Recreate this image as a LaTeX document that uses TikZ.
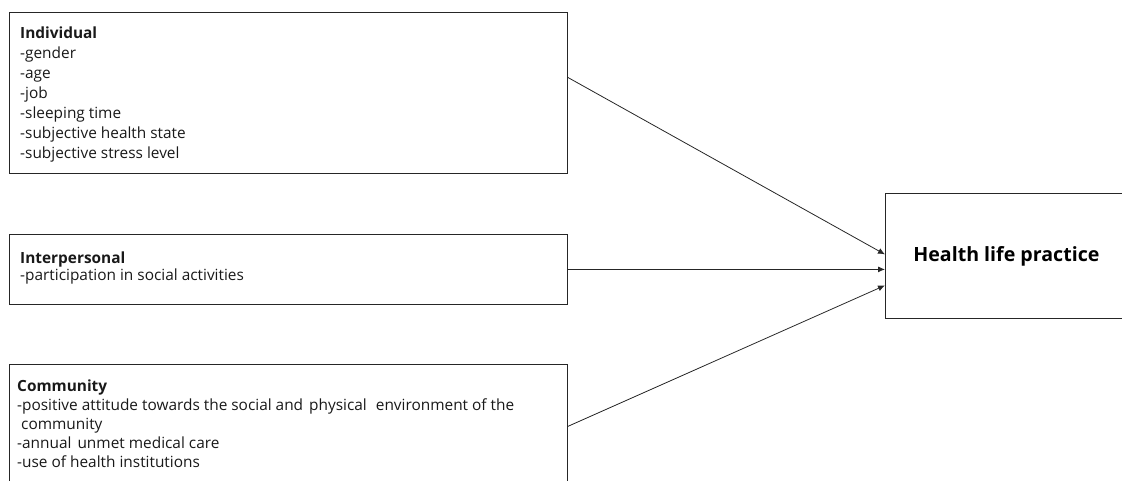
\documentclass[tikz,border=0pt]{standalone}
\usepackage{fontspec}
\setmainfont{Open Sans}
\usetikzlibrary{calc}
\usetikzlibrary{positioning}
\usetikzlibrary{arrows.meta}

\begin{document}
\begin{tikzpicture}[x=1pt,y=-1pt,>={Latex[length=7pt,width=6pt]},
factor/.style={draw=black!85,line width=0.8pt,rectangle,anchor=north west,minimum width=558pt,inner sep=0pt},
factortext/.style={anchor=base west,align=left,inner sep=0pt,text=black!90,font=\fontsize{15.4}{#1}\selectfont},
factortext/.default=19,
link/.style={->,draw=black!85,line width=0.8pt}]

\useasboundingbox (0,0) rectangle (1122,480);
\clip (0,0) rectangle (1122,480);

% factor boxes
\node[factor,minimum height=161pt] (ind) at (9,12) {};
\node[factor,minimum height=70pt] (ipp) at (9,234) {};
\node[factor,minimum height=124pt] (com) at (9,364) {};

% outcome
\node[factor,minimum width=242pt,minimum height=125pt,text=black,
  font=\bfseries\fontsize{19.6}{23}\selectfont] (hlp) at (885,193) {Health life practice};

% texts (base = last line)
\node[factortext=20] (indtxt) at (20,158) {\textbf{Individual}\\-gender\\-age\\-job\\-sleeping time\\-subjective health state\\-subjective stress level};
\node[factortext=15] (ipptxt) at (20,280) {\textbf{Interpersonal}\\-participation in social activities};
\node[factortext=18.8] (comtxt) at (17,467) {\textbf{Community}\\-positive attitude towards the social and\hspace{2pt} physical\hspace{5pt} environment of the\\\hspace{4pt}community\\-annual\hspace{2pt} unmet medical care\\-use of health institutions};

% arrows
\draw[link] ([yshift=15.5pt]ind.east) -- ([yshift=1.5pt]hlp.west);
\draw[link] (ipp.east) -- ([yshift=-13.5pt]hlp.west);
\draw[link] (com.east) -- ([yshift=-29.5pt]hlp.west);
\end{tikzpicture}
\end{document}
